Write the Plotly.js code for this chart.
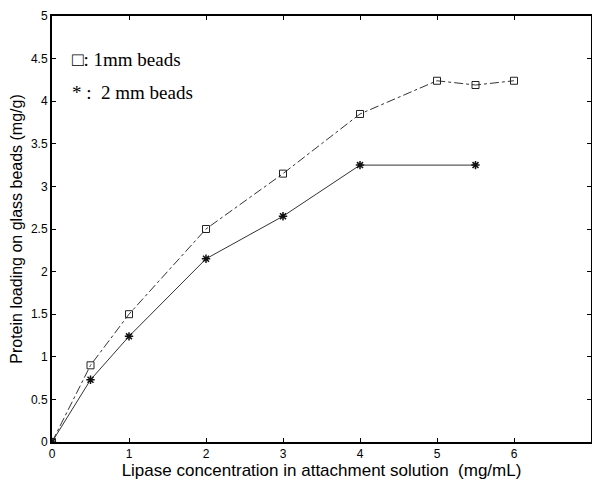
<!DOCTYPE html>
<html><head><meta charset="utf-8">
<script src="https://cdn.plot.ly/plotly-3.0.1.min.js"></script>
<style>html,body{margin:0;padding:0;background:#fff}#c{width:592px;height:480px}</style>
</head><body><div id="c"></div>
<script>
const x1mm = [0, 0.5, 1, 2, 3, 4, 5, 5.5, 6];
const y1mm = [0, 0.9, 1.5, 2.5, 3.15, 3.85, 4.24, 4.19, 4.24];
const x2mm = [0, 0.5, 1, 2, 3, 4, 5.5];
const y2mm = [0, 0.73, 1.24, 2.15, 2.65, 3.25, 3.25];
const xTicks = [0, 1, 2, 3, 4, 5, 6];
const yTicks = [0, 0.5, 1, 1.5, 2, 2.5, 3, 3.5, 4, 4.5, 5];

const traces = [
  {x: x1mm, y: y1mm, mode: 'lines+markers', name: '1mm',
   line: {color: '#333', width: 1, dash: 'dashdot'},
   marker: {symbol: 'square-open', size: 7, color: '#222', line: {width: 1}}},
  {x: x2mm, y: y2mm, mode: 'lines+markers', name: '2mm',
   line: {color: '#333', width: 1},
   marker: {symbol: 'asterisk-open', size: 7, color: '#111', line: {width: 1.5, color: '#111'}}}
];

const axisCommon = {
  showgrid: false, zeroline: false, showline: true, linecolor: '#000', linewidth: 2,
  mirror: 'ticks', ticks: 'inside', ticklen: 4, tickcolor: '#000',
  tickfont: {family: 'Liberation Sans, Arial, sans-serif', size: 12, color: '#000'}
};

const layout = {
  width: 592, height: 480,
  margin: {l: 52, r: 1, t: 16, b: 38},
  paper_bgcolor: '#fff', plot_bgcolor: '#fff',
  showlegend: false,
  xaxis: Object.assign({}, axisCommon, {
    range: [0, 7], tickvals: xTicks, ticktext: xTicks.map(String),
    title: {text: 'Lipase concentration in attachment solution  (mg/mL)', standoff: 3,
      font: {family: 'Liberation Sans, Arial, sans-serif', size: 17, color: '#000'}}
  }),
  yaxis: Object.assign({}, axisCommon, {
    range: [0, 5], tickvals: yTicks, ticktext: yTicks.map(String),
    title: {text: 'Protein loading on glass beads (mg/g)', standoff: 4,
      font: {family: 'Liberation Sans, Arial, sans-serif', size: 16, color: '#000'}}
  }),
  annotations: [
    {xref: 'paper', yref: 'paper', x: 0.034, y: 0.897, xanchor: 'left', yanchor: 'middle',
     text: '\u25A1: 1mm beads', showarrow: false,
     font: {family: 'Liberation Serif, Times New Roman, serif', size: 19, color: '#000'}},
    {xref: 'paper', yref: 'paper', x: 0.034, y: 0.82, xanchor: 'left', yanchor: 'middle',
     text: '* :  2 mm beads', showarrow: false,
     font: {family: 'Liberation Serif, Times New Roman, serif', size: 19, color: '#000'}}
  ]
};

Plotly.newPlot('c', traces, layout, {staticPlot: true, displayModeBar: false});
</script></body></html>
